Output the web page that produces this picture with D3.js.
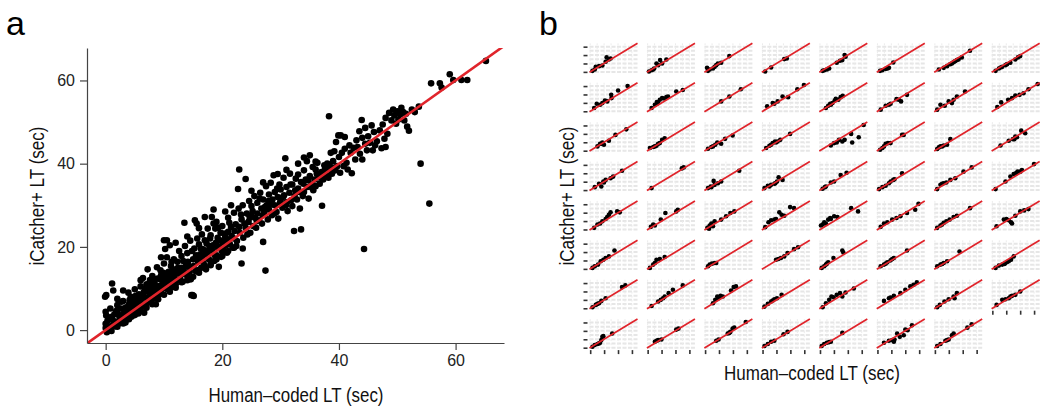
<!DOCTYPE html>
<html>
<head>
<meta charset="utf-8">
<script src="https://cdn.jsdelivr.net/npm/d3@7"></script>
<style>
body{margin:0;background:#fff;}
text{font-family:"Liberation Sans",Arial,sans-serif;}
</style>
</head>
<body>
<svg id="chart" width="1050" height="415"></svg>
<script>
// tick values shared by both panels
var ticksA = [0, 20, 40, 60];

// panel a: [human-coded LT, iCatcher+ LT] in seconds
var pointsA = [
 [0,0.5],[0,1.5],[0.2,-0.5],[0.3,2.2],[0.5,0.8],[0.1,3.5],[0,4.4],[-0.1,8],[0.1,8.4],[1.1,11.2],[1.3,9.5],[0.8,5.2],
 [1,1],[1.2,2.5],[1.5,3.8],[1.6,0.9],[1.8,2],[2,6],[2,4.2],[2.2,1.5],[2.4,3],[2.6,5.2],[2.8,2.4],[3,7],[3.1,4],[3.3,2.8],
 [3.5,5.5],[3.7,3.6],[3.9,9],[4,6.2],[4.2,4.2],[4.3,8],[4.5,5],[4.6,3.5],[4.8,7],[5,5.8],[5,9.8],[5.2,4.6],[5.4,7.4],
 [5.5,6],[5.7,8.6],[5.8,5],[6,10.5],[6,7.2],[6.2,6],[6.4,12.5],[6.5,9],[6.6,4.2],[6.8,7.8],[7,11],[7,6.4],[7.2,14.6],
 [7.3,9.2],[7.5,8],[7.6,12],[7.8,6.8],[8,10],[8,13],[8.2,7.6],[8.4,11.2],[8.5,9],[8.6,6.2],[8.8,15.1],[8.9,12.4],[9,8.4],
 [9.2,10.6],[9.4,14.4],[9.5,13.2],[9.6,8.8],[9.8,11.4],[10,21.6],[10,16],[10,10.2],[10.2,19.5],[10.3,12.6],[10.5,17.5],
 [10.5,21.6],[10.6,9.8],[10.8,14],[11,20.4],[11,11.8],[11.2,15.4],[11.4,10.4],[11.5,13],[11.7,17],[11.8,12],[12,14.6],
 [12,11],[12.3,16.4],[12.5,13.6],[12.6,19],[12.8,12.2],[13,15],[13,17.8],[13.2,11.6],[13.5,25.8],[13.4,14],[13.6,20.2],
 [13.8,16.2],[14,13],[14,18.5],[14.3,15.4],[14.5,21.5],[14.6,12.2],[14.7,8.4],[14.9,8.4],[15.1,8.2],[15,17],[15.2,19.6],
 [15.3,26.4],[15.4,14.2],[15.6,25.6],[15.7,22],[15.8,16.6],[16,13.8],[16,20.6],[16.2,18.2],[16.4,15],[16.5,23],[16.7,19.4],
 [16.8,16],[17,27.2],[17,21.6],[17.2,14.6],[17.4,18.6],[17.5,24.4],[17.7,17],[17.8,20.2],[18,15.6],[18,22.8],[18.2,27.2],
 [18.3,19],[18.5,29],[18.5,25.6],[18.6,16.6],[18.8,24.4],[18.9,21],[19,18],[19.2,22.2],[19.4,15.2],[19.5,20],[19.7,23.4],
 [19.8,17.6],[20,21.2],[20,25],[20.2,19.2],[20.5,22.4],[20.8,18.6],[21,23.6],[21,27],[21.3,20.6],[21.5,24.8],[21.8,19.8],
 [22,22],[22,28.2],[22.3,25.4],[22.5,21.4],[22.7,33.9],[22.9,38.6],[22.8,29.2],[23,23.4],[23.3,16],[23.5,19.6],[23.3,26.6],
 [23.5,30],[23.6,22.2],[24,36.3],[24,24.6],[24.2,28],[24.5,26],[24.6,31],[24.8,23.4],[25,27.4],[25,29.8],[25.3,25],
 [25.5,32.2],[25.6,27],[25.8,24.6],[26,30.6],[26,28],[26.3,26.4],[26.5,33],[26.7,29.2],[26.8,25.6],[27,31.4],[27,21.2],
 [27.2,28.4],[27.4,14.3],[27.5,34.6],[27.6,30],[27.8,26.6],[28,32.6],[28,29],[28.3,35.4],[28.5,27.6],[28.6,31.4],[28.8,37.2],
 [29,33.2],[29,30],[29.3,28.4],[29.5,32],[29.6,26.8],[29.8,35],[30,31],[30,33.8],[30.3,29.4],[30.5,36.6],[30.6,32.4],
 [30.8,41.3],[30.9,30],[31,34.4],[31.2,28.6],[31.5,33],[31.6,37.6],[31.8,31.2],[32,35],[32,29.8],[32.3,23.8],[32.5,33.6],
 [32.6,36.4],[32.8,31.4],[33,37.4],[33,34],[33.3,29.2],[33.5,24.2],[33.5,35.6],[33.8,32.2],[34,38.4],[34,33.2],[34.3,36.2],
 [34.5,40.6],[34.6,34.4],[34.8,31.6],[35,42],[35,37],[35.3,35],[35.5,39.2],[35.6,33.6],[35.8,36.2],[36,38.6],[36,34.6],
 [36.3,40.2],[36.5,36.8],[36.7,35.2],[37,38],[37.1,29.9],[37.3,36.2],[37.5,39.6],[37.8,37.4],[38,40],[38.3,51.4],[38.2,36.6],
 [38.5,38.8],[38.6,42.6],[38.8,37.6],[39,40.6],[39.2,43],[39.4,38.4],[39.5,45.2],[39.7,39.4],[39.9,46.8],[40,41.6],[40.2,37.8],
 [40.3,46.8],[40.5,42.6],[40.8,39.4],[41,46.4],[41,43.6],[41.3,40.2],[41.5,38.6],[41.8,44.4],[42,42.6],[42.2,37.7],[42.5,43.8],
 [42.8,41],[43,45.6],[43.2,44],[43.5,47.8],[43.6,42.4],[43.9,50.5],[44,46.2],[44,41],[44.3,19.5],[44.5,44.8],[44.5,48.6],
 [44.8,43.2],[45,46.6],[45.3,45],[45.6,49.2],[45.8,43.2],[46,47.6],[46.2,44.4],[46.5,45.4],[47,48],[47.3,43.7],[47.5,49.4],
 [47.8,46],[48,51],[48,44],[48.3,47.2],[48.6,52.2],[49,50.4],[49.3,53],[49.5,51.6],[49.8,49.6],[50,52.6],[50.2,50.6],
 [50.5,51.8],[50.7,53.4],[51,52.4],[51.2,50.4],[51.5,52],[51.7,48.9],[52,47.9],[52.5,53],[53,52.4],[53.7,53.7],[54,40],
 [55.5,30.4],[55.8,59.3],[57.3,59.3],[57.6,58.3],[59,61.5],[59.6,60.1],[61,60.1],[62,60.1],[65.2,64.7],
 [5,3.6],[8,6.2],[10,8.5],[12,10.2],[15,12.8],[18,15.9],[20,17.8],[22,19.8],[3,1.6],[6,4.8],[11,9.2],[13,11.5],[16,14.5],
 [17,15.4],[19,17],[21,19],[9,7.4],[14,12],[1,-0.2],[2,0.8],[4,2.6],[7,5.4],
 [0.5,2.8],[1,3.2],[1.4,1.8],[1.8,4.6],[2.3,3.6],[2.7,6.8],[3.2,5.2],[3.4,1.8],[3.8,4.8],[4.1,7.2],[4.4,3.2],[4.7,6],
 [5.1,8.2],[5.6,4],[5.9,6.6],[6.3,8.2],[6.7,10],[6.9,5.6],[7.4,9.8],[7.7,11],[8.1,8.8],[8.3,12],[8.7,10.2],[9.1,9.6],
 [9.3,12.2],[9.7,10],[9.9,13.8],[10.4,11.4],[10.7,13],[11.1,12.6],[11.3,16.4],[11.6,14.2],[11.9,13.4],[12.2,12],[12.4,15],
 [12.7,14.2],[13.1,13.4],[13.3,16.6],[13.7,15.2],[14.1,16.4],[14.4,14],[14.8,19],[15.1,15.4],[15.5,18],[15.9,17.4],
 [16.3,19.6],[16.6,17],[17.1,18.2],[17.3,20.8],[17.6,19.2],[17.9,22],[18.4,20.4],[18.7,18],[19.1,20],[19.3,24.6],[19.6,21.6],
 [19.9,19],[20.3,23.2],[20.6,20.4],[20.9,21.8],[21.2,25.8],[21.6,22.6],[22.1,23.8],[22.4,20.2],[22.9,24.8],[23.2,27.8],
 [23.8,25.6],[24.3,23],[24.7,27],[25.2,28.6],[25.9,26.2],[26.4,31.6],[26.9,27.6],[27.3,29.6],[27.9,31],[28.4,30.2],[28.9,28],
 [29.4,34],[29.9,30.6],[30.4,32],[31.1,30.8],[31.7,35],[32.4,32.2],[33.2,33.2],[33.9,35.2],[34.7,36],[35.4,34.2],[36.2,37.6],
 [36.9,36.6],[37.6,38.6],[38.4,39.6],[39.1,39],[3,9.5],[2,7.5],[6,12],[9.5,17.5],[12,21],[14,22.5],[16,24.5],[19,26],
 [20.5,28.5],[21.5,30],[25,33.5],[27,35.5],[29.5,37.5],[31,38.5],[33,40],[34,41.5],[36,40.5]
];

// panel b: one small series per child, same units
var subjects = [
 [[3.3,2.4],[6.6,5.6],[8,12],[12.8,13.6],[17.5,15.2],[22.2,24],[23.6,34.4],[26.9,29.6],[29.3,32]],
 [[1.9,0.8],[5.7,4],[8,5.6],[9.4,8],[12.7,20],[15.1,16],[17.9,28],[20.8,20],[26.9,29.6]],
 [[2.8,9.6],[4.2,2.4],[6.6,5.6],[11.3,8],[13.7,12],[16,16],[18.4,20],[23.1,21.6],[34.9,37.6]],
 [[3.8,0.8],[12.3,10.4],[31.2,30.4],[34.9,32]],
 [[3.8,2.4],[6.1,4],[9.9,5.6],[13.2,8],[24.1,21.6],[28.8,26.4],[32.1,28],[35.4,40],[36.8,36]],
 [[3.8,2.4],[7.1,4],[11.8,7.2],[14.2,8],[16.5,9.6],[22.7,22.4]],
 [[5.7,5.6],[12.7,9.6],[17.5,13.6],[22.2,18.4],[24.5,20],[26.9,23.2],[29.3,25.6],[31.6,28],[34,29.6],[38.7,34.4],[50.5,50.4]],
 [[4.7,2.4],[9.4,8],[11.8,10.4],[14.2,12],[18.9,16],[21.2,18.4],[25.9,21.6],[33,29.6],[36.8,34.4],[40.1,37.6]],
 [[5.7,7.8],[9.4,18],[14.2,15.6],[17.5,19.5],[21.2,25.8],[24.5,23.5],[30.2,39.1],[30.7,31.3],[40.1,49.3],[53.8,60.2]],
 [[5.7,7.8],[10.4,15.6],[13.2,21.9],[15.1,19.5],[17.5,27.4],[20.8,31.3],[23.6,30.5],[26.9,33.6],[29.3,35.2],[41.1,46.9],[50.5,50.8]],
 [[23.1,23.5],[34.9,35.2],[51.4,52.4]],
 [[6.6,11.7],[14.6,19.5],[17,18],[21.7,23.5],[28.8,35.2],[36.8,33.6],[50,52.4],[59.5,62.6]],
 [[8.5,7.8],[11.8,13.3],[14.6,18],[15.6,15.6],[17.9,19.5],[21.2,25.8],[22.7,29.7],[26.4,27.4],[29.7,33.6],[32.6,36.8]],
 [[4.7,3.9],[11.8,13.3],[16.5,15.6],[18.9,18],[27.4,28.9],[30.7,27.4],[34,23.5],[42.5,39.1]],
 [[3.3,3.9],[8,15.6],[14.2,13.3],[19.8,23.5],[24.5,19.5],[26.9,27.4],[31.6,35.2],[43.4,46.9]],
 [[7.1,10.2],[12.7,21.1],[22.7,27.4],[28.3,31.3],[33,37.5],[39.2,39.1],[44.8,43],[51.9,52.4],[65.1,64.9]],
 [[10.4,10.2],[14.2,16.4],[16,16.4],[17.5,19.5],[19.8,14.1],[26.9,23.5],[36.3,37.5],[51.9,50.8]],
 [[3.3,6.3],[8,8.6],[10.4,10.2],[12.7,11.7],[15.1,16.4],[17.5,18],[20.8,25.8],[24.5,29.7]],
 [[4.2,4.7],[9,8.6],[11.3,10.2],[14.6,14.1],[17.5,19.5],[23.1,16.4],[28.8,28.2],[39.6,36]],
 [[5.2,6.3],[9.9,11.7],[12.3,14.1],[14.6,18],[17.9,21.9],[19.4,19.5],[21.7,21.9],[25.5,25.8],[39.6,39.9]],
 [[15.6,12.5],[20.3,18],[24.1,19.5],[27.4,25.8],[32.1,21.9],[35.4,25.8],[44.8,39.9],[46.3,19.5],[55.7,32.1],[62.8,61]],
 [[3.8,2.3],[7.1,6.3],[9.4,10.2],[11.8,16.4],[15.1,18],[18.9,18],[35.4,37.5],[37.8,37.5]],
 [[3.3,3.9],[5.7,7.8],[8,10.2],[10.4,10.2],[12.7,12.5],[17.5,14.1],[22.2,27.4]],
 [[11.8,12.5],[23.6,23.5],[29.7,27.4],[31.6,27.4],[33,33.6],[35.4,32.1],[41.5,47.7],[47.2,41.4]],
 [[6.6,7],[12.7,14.9],[16,8.6],[18.9,20.3],[19.8,18],[22.2,24.2],[29.3,28.2],[33,32.1],[45.8,46.1]],
 [[5.7,4.7],[49.1,51.6],[51.9,54]],
 [[4.2,4.7],[8,8.6],[9,7],[12.3,21.9],[13.7,12.5],[18.4,16.4],[23.1,20.3],[49.1,46.1]],
 [[2.8,4.7],[7.6,10.2],[9.9,8.6],[12.3,12.5],[17,14.9],[18.4,16.4],[20.8,20.3],[23.1,30.5],[28.8,24.2]],
 [[3.8,3.1],[7.1,7],[8.5,8.6],[15.6,18],[20.3,20.3],[29.7,36],[38.2,41.4]],
 [[2.4,2.3],[7.1,7],[11.8,10.2],[16.5,16.4],[18.9,20.3],[22.7,24.2],[24.5,25.8],[35.4,39.9]],
 [[3.3,2.3],[8,12.5],[10.4,14.9],[12.7,16.4],[16.5,18],[22.2,24.2],[29.3,28.2],[41.1,43.8],[52.9,54]],
 [[4.7,2.3],[18.9,20.3],[25.9,32.1],[30.7,38.3],[34.4,41.4],[36.3,43.8],[40.1,43.8],[42.5,47.7],[59.9,61.8]],
 [[5.7,3.9],[10.4,11.7],[14.2,14.1],[17.5,19.5],[22.2,25],[24.5,29.7],[26.9,35.2],[29.3,40.7],[38.7,43],[42.5,40.7]],
 [[4.7,6.3],[8,11.7],[10.4,9.4],[18.9,23.5],[25.5,39.1],[41.1,43],[43.4,46.9]],
 [[3.3,3.9],[5.7,1.6],[6.6,9.4],[9,14.1],[11.3,7.8],[13.7,19.5],[23.1,23.5],[30.2,31.3],[36.3,39.1],[42,43]],
 [[3.8,5.5],[8.5,17.2],[12.3,21.9],[17,23.5],[19.4,25],[24.1,40.7],[27.4,35.2],[31.2,32.8],[39.6,53.2],[45.3,50.8]],
 [[1.4,9.4],[3.8,11.7],[6.1,17.2],[8.5,14.1],[11.8,23.5],[14.6,27.4],[15.6,25],[20.3,31.3],[25,29.7],[44.8,50.8],[54.7,43]],
 [[4.7,6.3],[9.4,14.1],[14.2,17.2],[21.2,23.5],[27.4,27.4],[33,31.3],[42.5,39.1],[54.3,46.9],[59,61]],
 [[3.3,3.9],[8,9.4],[10.4,11.7],[12.7,15.6],[16.5,19.5],[21.2,23.5],[26.9,29.7],[31.6,32.8],[50.5,50.8]],
 [[6.1,7.8],[16.5,23.5],[20.3,25],[23.6,21.9],[26.9,17.2],[28.3,14.1],[33,32.8],[40.1,43],[45.8,45.4],[51.9,48.5]],
 [[3.3,2.3],[6.6,6.3],[11.3,10.2],[15.1,18],[18.9,21.9],[22.2,25.8],[26.9,29.7],[34.9,43.8]],
 [[3.3,2.3],[8,10.2],[10.4,14.1],[12.7,21.9],[17.5,23.5],[24.5,28.2]],
 [[4.2,6.3],[6.6,10.2],[9.9,12.5],[13.7,14.1],[16,14.1]],
 [[19.4,21.9],[22.7,23.5],[26.4,25.8],[31.2,29.7],[35.9,37.5],[45.3,46.9],[51,51.6]],
 [[2.4,2.3],[6.1,6.3],[8.5,10.2],[9.9,12.5],[11.8,15.6],[19.4,25.8],[32.1,43.8],[33.5,39.1]],
 [[4.7,6.3],[9.4,10.2],[11.8,12.5],[14.2,15.6],[18.9,20.3],[21.2,23.5],[23.6,25.8],[42.5,43.8]],
 [[3.3,6.3],[8,10.2],[10.4,11.7],[12.7,14.1],[17.5,18],[35.4,41.4]],
 [[4.7,2.3],[9.4,7.8],[14.2,10.2],[17.5,11.7],[18.9,14.1],[21.2,16.4],[23.6,18],[26.9,21.9],[30.7,29.7]],
 [[3.3,2.4],[8,8],[10.4,10.4],[12.7,12],[16,17.6],[22.2,24],[45.8,50.4],[50.5,54.4]],
 [[5.7,5.6],[15.1,16],[18.9,20],[22.2,24],[24.5,28],[30.2,36],[36.3,44],[50.5,54.4]],
 [[11.3,12],[14.6,20],[17.5,28],[19.4,24],[22.2,29.6],[25.5,28],[37.3,42.4],[41.1,50.4],[44.4,52]],
 [[2.8,4],[7.6,10.4],[12.3,16],[14.6,18.4],[17,21.6],[20.8,24],[27.4,32]],
 [[3.8,2.4],[8.5,12],[13.2,20],[16.5,28],[19.4,26.4],[24.1,32],[28.8,36],[32.1,28],[36.8,37.6],[48.6,47.2]],
 [[9.4,17.6],[16.5,24],[18.9,25.6],[23.6,29.6],[33,36],[40.1,44],[47.2,52],[51.9,56],[56.6,61.6]],
 [[3.3,2.4],[7.1,8],[13.7,16],[19.8,21.6],[26.9,28],[28.3,24],[31.6,36]],
 [[6.1,8],[14.2,20],[18.9,21.6],[23.6,24],[26,28],[28.3,29.6],[33,32],[40.1,40]],
 [[3.3,2.3],[6.6,6.3],[10.4,8.6],[12.7,10.2],[14.2,11.7],[16,18],[17.5,25.8],[18.9,27.4],[31.6,33.6]],
 [[10.4,14.1],[12.7,16.4],[15.1,18],[19.8,19.5],[41.1,43],[44.4,45.4]],
 [[16,16.4],[19.4,19.5],[32.6,33.6],[34.9,35.2],[36.3,37.5],[39.6,45.4],[42,47.7],[58.5,61]],
 [[2.8,3.9],[7.6,8.6],[12.3,14.1],[17,16.4],[30.2,32.1],[35.9,37.5]],
 [[2.4,3.9],[6.1,8.6],[9.9,11.7],[13.2,13.3],[15.6,14.1],[32.1,35.2]],
 [[9.4,11.7],[16.5,16.4],[21.2,18],[23.6,14.1],[24.5,19.5],[28.3,33.6],[32.1,25.8],[37.8,29.7],[40.1,43],[43.4,41.4],[49.6,53.2]],
 [[3.3,3.9],[8,8.6],[15.1,16.4],[17.5,18],[19.8,19.5],[24.5,29.7],[26.9,33.6],[46.7,47.7],[52.9,55.5]]
];

var gridB = [0, 10, 20, 30, 40, 50, 60];

var svg = d3.select("#chart");
var red = "#e0242b", axisCol = "#444";

// narrow title helper: squeeze Liberation Sans to the condensed look of the original
function label(x, y, rot, len, txt){
  svg.append("text")
    .attr("transform", "translate(" + x + "," + y + ")" + (rot ? " rotate(-90)" : ""))
    .attr("text-anchor", "middle")
    .attr("textLength", len).attr("lengthAdjust", "spacingAndGlyphs")
    .style("font-size", "20px").style("fill", "#111").text(txt);
}

// ---------- panel a ----------
var xA = d3.scaleLinear().domain([-3.2, 68.3]).range([87, 504]);
var yA = d3.scaleLinear().domain([-3.1, 67.8]).range([343, 48]);

svg.append("text").attr("x", 6).attr("y", 35).style("font-size", "34px").text("a");
svg.append("text").attr("x", 539).attr("y", 35).style("font-size", "34px").text("b");

svg.append("clipPath").attr("id", "clipA").append("rect")
  .attr("x", 87).attr("y", 48).attr("width", 417).attr("height", 295);

var gA = svg.append("g").attr("clip-path", "url(#clipA)");
gA.selectAll("circle").data(pointsA).enter().append("circle")
  .attr("cx", function(d){ return xA(d[0]); })
  .attr("cy", function(d){ return yA(d[1]); })
  .attr("r", 3.3).style("fill", "#000");
gA.append("line")
  .attr("x1", xA(-3.2)).attr("y1", yA(-3.2))
  .attr("x2", xA(70)).attr("y2", yA(70))
  .style("stroke", red).style("stroke-width", 2.6);

var axB = svg.append("g").attr("transform", "translate(0,343)")
  .call(d3.axisBottom(xA).tickValues(ticksA).tickSize(7).tickSizeOuter(0).tickPadding(5));
var axL = svg.append("g").attr("transform", "translate(87,0)")
  .call(d3.axisLeft(yA).tickValues(ticksA).tickSize(7).tickSizeOuter(0).tickPadding(5));
[axB, axL].forEach(function(a){
  a.selectAll("path,line").style("stroke", axisCol).style("stroke-width", 1.2);
  a.selectAll("text").style("font-size", "16px").style("fill", "#222")
    .style("font-family", '"Liberation Sans",Arial,sans-serif');
});

label(296, 402, false, 175, "Human\u2013coded LT (sec)");
label(44, 196, true, 139, "iCatcher+ LT (sec)");

// ---------- panel b ----------
var ncol = 8, pw = 48, ph = 29, left0 = 589.5, top0 = 43.3, dx = 57.45, dy = 39.4;

subjects.forEach(function(pts, k){
  var col = k % ncol, row = Math.floor(k / ncol);
  var x0 = left0 + col * dx, y0 = top0 + row * dy;
  var x = d3.scaleLinear().domain([-1, 68]).range([x0, x0 + pw]);
  var y = d3.scaleLinear().domain([-1, 68]).range([y0 + ph, y0]);
  var g = svg.append("g");

  g.selectAll("line.h").data(gridB).enter().append("line").attr("class", "h")
    .attr("x1", x0).attr("x2", x0 + pw)
    .attr("y1", function(d){ return y(d); }).attr("y2", function(d){ return y(d); })
    .style("stroke", "#e6e6e6").style("stroke-width", 2).style("stroke-dasharray", "4,1.5");
  g.selectAll("line.v").data(gridB).enter().append("line").attr("class", "v")
    .attr("y1", y0).attr("y2", y0 + ph)
    .attr("x1", function(d){ return x(d); }).attr("x2", function(d){ return x(d); })
    .style("stroke", "#ececec").style("stroke-width", 1).style("stroke-dasharray", "2,2");

  g.selectAll("circle").data(pts).enter().append("circle")
    .attr("cx", function(d){ return x(d[0]); })
    .attr("cy", function(d){ return y(d[1]); })
    .attr("r", 2.3).style("fill", "#000");
  g.append("line")
    .attr("x1", x(-1)).attr("y1", y(-1)).attr("x2", x(68)).attr("y2", y(68))
    .style("stroke", red).style("stroke-width", 1.7);

  if (col === 0) {
    var ay = g.append("g").attr("transform", "translate(" + (x0 - 2) + ",0)")
      .call(d3.axisLeft(y).tickValues(ticksA).tickSize(4).tickFormat(""));
    ay.select(".domain").remove();
    ay.selectAll("line").style("stroke", "#333").style("stroke-width", 1.6);
  }
  if (k + ncol >= subjects.length) {
    var ax = g.append("g").attr("transform", "translate(0," + (y0 + ph + 2) + ")")
      .call(d3.axisBottom(x).tickValues(ticksA).tickSize(4).tickFormat(""));
    ax.select(".domain").remove();
    ax.selectAll("line").style("stroke", "#333").style("stroke-width", 1.6);
  }
});

label(812, 380, false, 176, "Human\u2013coded LT (sec)");
label(574, 196, true, 139, "iCatcher+ LT (sec)");
</script>
</body>
</html>
